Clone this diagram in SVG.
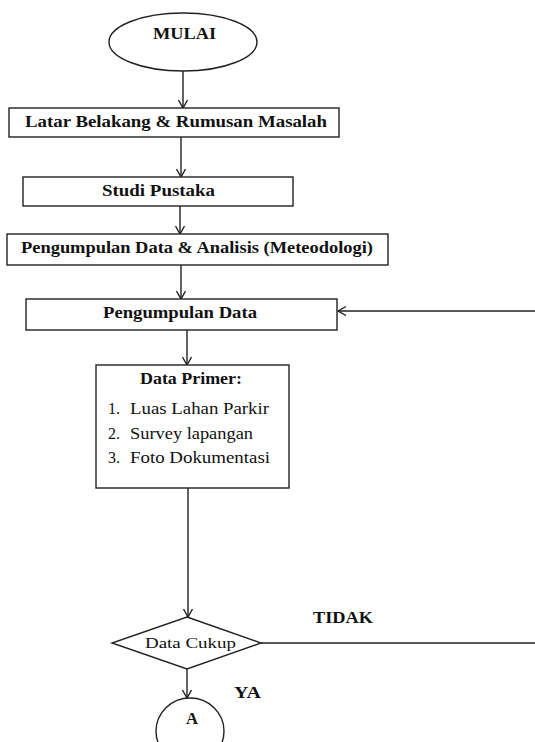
<svg xmlns="http://www.w3.org/2000/svg" width="535" height="742" viewBox="0 0 535 742">
<style>
.shape{fill:#fff;stroke:#222;stroke-width:1.4}
.line{fill:none;stroke:#222;stroke-width:1.4}
.b{font-family:"Liberation Serif","Times New Roman",serif;font-weight:bold;font-size:16px;fill:#111}
.r{font-family:"Liberation Serif","Times New Roman",serif;font-size:16px;fill:#111}
</style>
<defs>
<marker id="arr" markerUnits="userSpaceOnUse" markerWidth="12" markerHeight="12" refX="9" refY="5" orient="auto">
<path d="M1,0.5 L9,5 L1,9.5" fill="none" stroke="#222" stroke-width="1.4"/>
</marker>
</defs>
<rect width="535" height="742" fill="#fff"/>
<g id="connectors">
<line class="line" x1="183" y1="71" x2="183" y2="108" marker-end="url(#arr)"/>
<line class="line" x1="181" y1="137" x2="181" y2="177" marker-end="url(#arr)"/>
<line class="line" x1="180" y1="206" x2="180" y2="234" marker-end="url(#arr)"/>
<line class="line" x1="181" y1="265" x2="181" y2="299" marker-end="url(#arr)"/>
<line class="line" x1="187" y1="330" x2="187" y2="365" marker-end="url(#arr)"/>
<line class="line" x1="188" y1="488" x2="188" y2="617" marker-end="url(#arr)"/>
<line class="line" x1="187" y1="669" x2="187" y2="698" marker-end="url(#arr)"/>
<line class="line" x1="535" y1="311" x2="338" y2="311" marker-end="url(#arr)"/>
<line class="line" x1="261" y1="643" x2="535" y2="643"/>
<text class="b" x="313" y="623" textLength="60" lengthAdjust="spacingAndGlyphs">TIDAK</text>
<text class="b" x="234" y="698" textLength="27" lengthAdjust="spacingAndGlyphs">YA</text>
</g>
<g id="mulai">
<ellipse class="shape" cx="183" cy="42" rx="74" ry="29"/>
<text class="b" x="153" y="39" textLength="63" lengthAdjust="spacingAndGlyphs">MULAI</text>
</g>
<g id="latar">
<rect class="shape" x="9" y="108" width="330" height="29"/>
<text class="b" x="25" y="127" textLength="302" lengthAdjust="spacingAndGlyphs">Latar Belakang &amp; Rumusan Masalah</text>
</g>
<g id="studi">
<rect class="shape" x="23" y="177" width="270" height="29"/>
<text class="b" x="102" y="196" textLength="113" lengthAdjust="spacingAndGlyphs">Studi Pustaka</text>
</g>
<g id="metodologi">
<rect class="shape" x="7" y="234" width="381" height="31"/>
<text class="b" x="21" y="253" textLength="352" lengthAdjust="spacingAndGlyphs">Pengumpulan Data &amp; Analisis (Meteodologi)</text>
</g>
<g id="pengumpulan">
<rect class="shape" x="26" y="299" width="311" height="31"/>
<text class="b" x="103" y="318" textLength="154" lengthAdjust="spacingAndGlyphs">Pengumpulan Data</text>
</g>
<g id="primer">
<rect class="shape" x="96" y="365" width="193" height="123"/>
<text class="b" x="140" y="384" textLength="102" lengthAdjust="spacingAndGlyphs">Data Primer:</text>
<text class="r" x="108" y="414">1.</text>
<text class="r" x="130" y="414" textLength="139" lengthAdjust="spacingAndGlyphs">Luas Lahan Parkir</text>
<text class="r" x="108" y="439">2.</text>
<text class="r" x="130" y="439" textLength="123" lengthAdjust="spacingAndGlyphs">Survey lapangan</text>
<text class="r" x="108" y="463">3.</text>
<text class="r" x="130" y="463" textLength="140" lengthAdjust="spacingAndGlyphs">Foto Dokumentasi</text>
</g>
<g id="cukup">
<polygon class="shape" points="187,617 261,643 187,669 112,643"/>
<text class="r" x="145" y="648" textLength="91" lengthAdjust="spacingAndGlyphs" style="font-size:15px">Data Cukup</text>
</g>
<g id="a">
<ellipse class="shape" cx="190" cy="731" rx="34" ry="33"/>
<text class="b" x="186" y="724" textLength="12" lengthAdjust="spacingAndGlyphs">A</text>
</g>
</svg>
